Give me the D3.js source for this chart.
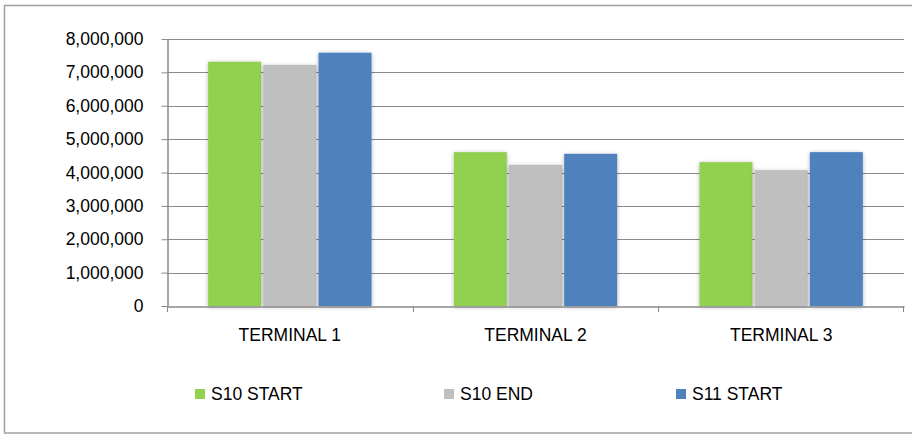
<!DOCTYPE html>
<html>
<head>
<meta charset="utf-8">
<script src="https://cdn.jsdelivr.net/npm/d3@7"></script>
<style>
  body { margin: 0; background: #fff; }
  svg { display: block; font-family: "Liberation Sans", Arial, sans-serif; }
</style>
</head>
<body>
<div id="chart"></div>
<script>
// chart data
const categories = ["TERMINAL 1", "TERMINAL 2", "TERMINAL 3"];
const seriesNames = ["S10 START", "S10 END", "S11 START"];
const s10Start = [7320000, 4610000, 4310000];
const s10End = [7220000, 4230000, 4070000];
const s11Start = [7590000, 4560000, 4610000];
const yTicks = [0, 1000000, 2000000, 3000000, 4000000, 5000000, 6000000, 7000000, 8000000];

const colors = ["#92D050", "#BFBFBF", "#4F81BD"];
const seriesValues = [s10Start, s10End, s11Start];

const width = 912, height = 434;
const margin = {top: 39, right: 9, bottom: 128, left: 167};

const svg = d3.select("#chart")
    .append("svg")
    .attr("width", width)
    .attr("height", height);

// soft shadow behind the bars
const filter = svg.append("defs").append("filter")
    .attr("id", "shadow")
    .attr("x", "-20%").attr("y", "-20%")
    .attr("width", "140%").attr("height", "140%");
filter.append("feDropShadow")
    .attr("dx", 0).attr("dy", 1)
    .attr("stdDeviation", 2)
    .attr("flood-color", "#000")
    .attr("flood-opacity", 0.3);

// outer frame
svg.append("rect")
    .attr("x", 4.5).attr("y", 5.5)
    .attr("width", width + 10).attr("height", 427.5)
    .attr("fill", "none")
    .attr("stroke", "#a0a0a0")
    .attr("stroke-width", 1.5);

const yScale = d3.scaleLinear()
    .domain([0, 8000000])
    .range([height - margin.bottom, margin.top]);

const x0 = d3.scaleBand()
    .domain(categories)
    .range([margin.left, width - margin.right + 1])
    .paddingInner(0.335)
    .paddingOuter(0.1675);

const x1 = d3.scaleBand()
    .domain(seriesNames)
    .range([0, x0.bandwidth()])
    .paddingInner(0.04);

// gridlines
svg.append("g")
    .selectAll("line")
    .data(yTicks.slice(1))
    .join("line")
      .attr("x1", margin.left)
      .attr("x2", width - margin.right + 1)
      .attr("y1", d => Math.round(yScale(d)) + 0.5)
      .attr("y2", d => Math.round(yScale(d)) + 0.5)
      .attr("stroke", "#8a8a8a")
      .attr("stroke-width", 1);

// bars
svg.append("g")
    .selectAll("g")
    .data(categories)
    .join("g")
      .attr("transform", d => `translate(${x0(d)},0)`)
    .selectAll("rect")
    .data((d, i) => seriesNames.map((s, j) => ({series: s, value: seriesValues[j][i], color: colors[j]})))
    .join("rect")
      .attr("x", d => x1(d.series))
      .attr("y", d => yScale(d.value))
      .attr("width", x1.bandwidth())
      .attr("height", d => yScale(0) - yScale(d.value))
      .attr("fill", d => d.color)
      .attr("filter", "url(#shadow)");

// y axis
const yAxis = svg.append("g")
    .attr("transform", `translate(${margin.left + 0.5},0)`)
    .call(d3.axisLeft(yScale)
        .tickValues(yTicks)
        .tickSize(6)
        .tickPadding(18)
        .tickSizeOuter(0)
        .tickFormat(d3.format(",")));
yAxis.select(".domain").attr("stroke", "#8a8a8a").attr("stroke-width", 1.5);
yAxis.selectAll(".tick line").attr("stroke", "#8a8a8a");
yAxis.selectAll("text")
    .attr("font-size", "17.5px")
    .attr("fill", "#000");

// x axis
const xAxis = svg.append("g")
    .attr("transform", `translate(0,${Math.round(yScale(0)) + 0.5})`)
    .call(d3.axisBottom(x0).tickSize(0).tickPadding(22));
xAxis.select(".domain").attr("stroke", "#8a8a8a").attr("stroke-width", 1.5);
xAxis.selectAll("text")
    .attr("font-size", "17.5px")
    .attr("fill", "#000");

// category boundary ticks
const boundaries = [margin.left, ...categories.slice(1).map(c => x0(c) - x0.step() * x0.paddingInner() / 2), width - margin.right];
svg.append("g")
    .selectAll("line")
    .data(boundaries)
    .join("line")
      .attr("x1", d => Math.round(d) + 0.5)
      .attr("x2", d => Math.round(d) + 0.5)
      .attr("y1", yScale(0))
      .attr("y2", yScale(0) + 6)
      .attr("stroke", "#8a8a8a");

// legend
const legendX = [195, 444, 676];
const legend = svg.append("g")
    .selectAll("g")
    .data(seriesNames)
    .join("g")
      .attr("transform", (d, i) => `translate(${legendX[i]},389)`);
legend.append("rect")
    .attr("width", 10)
    .attr("height", 10)
    .attr("fill", (d, i) => colors[i]);
legend.append("text")
    .attr("x", 16)
    .attr("y", 5)
    .attr("dy", "0.35em")
    .attr("font-size", "17.5px")
    .attr("fill", "#000")
    .text(d => d);
</script>
</body>
</html>
